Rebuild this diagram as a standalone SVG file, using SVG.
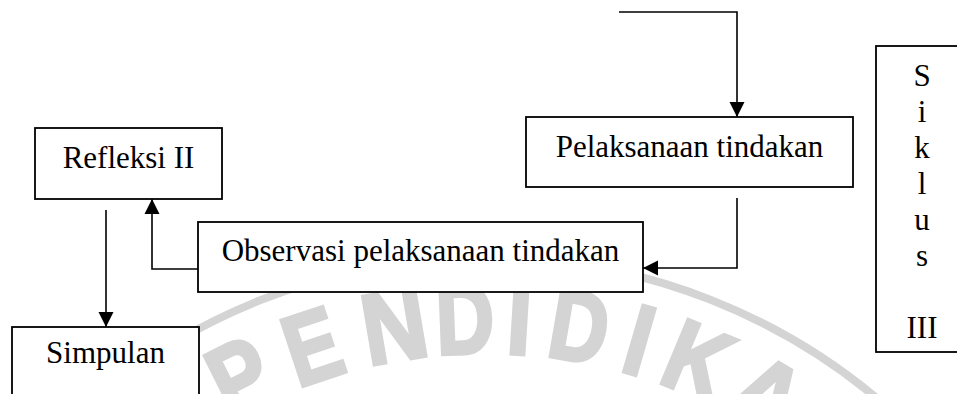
<svg xmlns="http://www.w3.org/2000/svg" width="957" height="394" viewBox="0 0 957 394">
<defs>
<marker id="ah" markerUnits="userSpaceOnUse" markerWidth="16" markerHeight="16" viewBox="0 0 16 16" refX="15" refY="8" orient="auto">
<path d="M0,0.5 L15,8 L0,15.5 Z" fill="#000"/>
</marker>
</defs>
<style>
.box{fill:#fff;stroke:#000;stroke-width:1.8}
.lbl{font-family:"Liberation Serif","Times New Roman",serif;font-size:31px;fill:#000;text-anchor:middle}
.con{fill:none;stroke:#000;stroke-width:1.6}
.wm{font-family:"Liberation Sans",Arial,sans-serif;font-weight:bold;font-size:100px;fill:#d4d4d4;stroke:#d4d4d4;stroke-width:4;text-anchor:middle}
</style>
<rect width="957" height="394" fill="#fff"/>
<g id="watermark">
<circle cx="486" cy="868" r="611" fill="none" stroke="#d4d4d4" stroke-width="8"/>
<text class="wm" x="486" y="353" transform="rotate(-26.6 486 868)" textLength="56" lengthAdjust="spacingAndGlyphs">P</text>
<text class="wm" x="486" y="353" transform="rotate(-18.4 486 868)" textLength="54" lengthAdjust="spacingAndGlyphs">E</text>
<text class="wm" x="486" y="353" transform="rotate(-9.6 486 868)" textLength="64" lengthAdjust="spacingAndGlyphs">N</text>
<text class="wm" x="486" y="353" transform="rotate(-2.2 486 868)" textLength="58" lengthAdjust="spacingAndGlyphs">D</text>
<text class="wm" x="486" y="353" transform="rotate(3.5 486 868)" textLength="24" lengthAdjust="spacingAndGlyphs">I</text>
<text class="wm" x="486" y="353" transform="rotate(9.8 486 868)" textLength="58" lengthAdjust="spacingAndGlyphs">D</text>
<text class="wm" x="486" y="353" transform="rotate(16.2 486 868)" textLength="24" lengthAdjust="spacingAndGlyphs">I</text>
<text class="wm" x="486" y="353" transform="rotate(22.7 486 868)" textLength="62" lengthAdjust="spacingAndGlyphs">K</text>
<text class="wm" x="486" y="353" transform="rotate(30.8 486 868)" textLength="64" lengthAdjust="spacingAndGlyphs">A</text>
</g>
<g id="connectors">
<polyline class="con" points="619,12 737,12 737,117" marker-end="url(#ah)"/>
<polyline class="con" points="737,198 737,268 643,268" marker-end="url(#ah)"/>
<polyline class="con" points="198,269 152,269 152,199" marker-end="url(#ah)"/>
<line class="con" x1="106" y1="210" x2="106" y2="327" marker-end="url(#ah)"/>
</g>
<g id="refleksi">
<rect class="box" x="35" y="128" width="187" height="71"/>
<text class="lbl" x="128.5" y="168">Refleksi II</text>
</g>
<g id="pelaksanaan">
<rect class="box" x="526" y="117" width="327" height="70"/>
<text class="lbl" x="689.5" y="157">Pelaksanaan tindakan</text>
</g>
<g id="observasi">
<rect class="box" x="198" y="222" width="445" height="70"/>
<text class="lbl" x="420.5" y="261">Observasi pelaksanaan tindakan</text>
</g>
<g id="simpulan">
<rect class="box" x="12" y="327" width="187" height="100"/>
<text class="lbl" x="105.5" y="363">Simpulan</text>
</g>
<g id="siklus">
<rect class="box" x="876" y="46" width="100" height="306"/>
<text class="lbl" x="922" y="86">S</text>
<text class="lbl" x="922" y="122">i</text>
<text class="lbl" x="922" y="158">k</text>
<text class="lbl" x="922" y="194">l</text>
<text class="lbl" x="922" y="230">u</text>
<text class="lbl" x="922" y="266">s</text>
<text class="lbl" x="922" y="338">III</text>
</g>
</svg>
